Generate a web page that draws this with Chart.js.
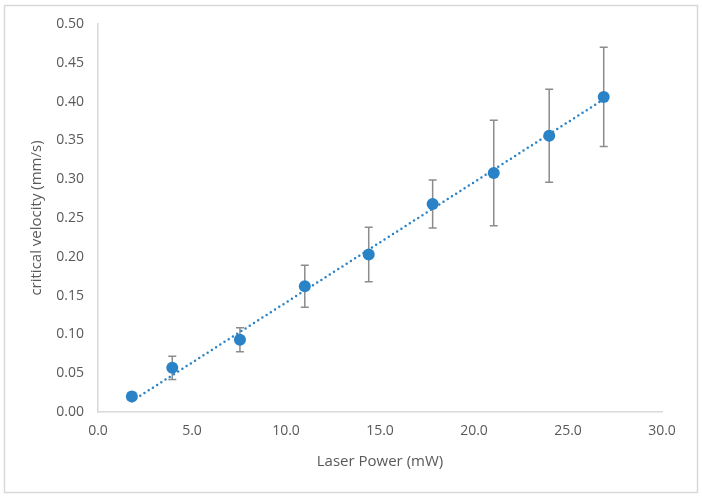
<!DOCTYPE html>
<html>
<head>
<meta charset="utf-8">
<script src="https://cdn.jsdelivr.net/npm/chart.js@4"></script>
<style>
  html, body { margin: 0; padding: 0; background: #fff; }
  #wrap { width: 702px; height: 498px; }
</style>
</head>
<body>
<div id="wrap"><canvas id="chart" width="702" height="498"></canvas></div>
<script>
// Laser power (mW) vs critical velocity (mm/s)
const laserPower = [1.8, 3.95, 7.55, 11.0, 14.4, 17.8, 21.05, 24.0, 26.9];
const critVelocity = [0.020, 0.057, 0.093, 0.162, 0.203, 0.268, 0.308, 0.356, 0.406];
const errorSize = [0.005, 0.015, 0.0155, 0.027, 0.035, 0.031, 0.068, 0.060, 0.064];

// linear trendline end points
const trendX = [1.8, 26.9];
const trendY = [0.014, 0.403];

const xTicks = [0, 5, 10, 15, 20, 25, 30];
const yTicks = [0, 0.05, 0.1, 0.15, 0.2, 0.25, 0.3, 0.35, 0.4, 0.45, 0.5];

const textColor = "#595959";
const fontFamily = "'Open Sans', 'Noto Sans', sans-serif";

// error bars drawn with the chart's own scales, under the points
const errorBars = {
  id: "errorBars",
  beforeDatasetsDraw(chart) {
    const { ctx, scales } = chart;
    const x = scales.x;
    const y = scales.y;
    ctx.save();
    ctx.strokeStyle = "#8c8c8c";
    ctx.lineWidth = 1.5;
    laserPower.forEach((p, i) => {
      const px = x.getPixelForValue(p);
      const top = y.getPixelForValue(critVelocity[i] + errorSize[i]);
      const bot = y.getPixelForValue(critVelocity[i] - errorSize[i]);
      ctx.beginPath();
      ctx.moveTo(px, top);
      ctx.lineTo(px, bot);
      ctx.moveTo(px - 4, top);
      ctx.lineTo(px + 4, top);
      ctx.moveTo(px - 4, bot);
      ctx.lineTo(px + 4, bot);
      ctx.stroke();
    });
    ctx.restore();
  },
};

// outer chart border
const frame = {
  id: "frame",
  beforeDraw(chart) {
    const ctx = chart.ctx;
    ctx.save();
    ctx.strokeStyle = "#d9d9d9";
    ctx.lineWidth = 1.5;
    ctx.strokeRect(4.5, 5.5, 693, 487);
    ctx.restore();
  },
};

new Chart(document.getElementById("chart"), {
  type: "scatter",
  data: {
    datasets: [
      {
        label: "trend",
        type: "line",
        data: trendX.map((v, i) => ({ x: v, y: trendY[i] })),
        borderColor: "#2a83c6",
        borderWidth: 2.5,
        borderDash: [0, 5],
        borderCapStyle: "round",
        pointRadius: 0,
        fill: false,
        order: 1,
      },
      {
        label: "critical velocity",
        data: laserPower.map((v, i) => ({ x: v, y: critVelocity[i] })),
        backgroundColor: "#2a83c6",
        borderColor: "#2a83c6",
        borderWidth: 0,
        pointRadius: 6,
        order: 0,
      },
    ],
  },
  options: {
    responsive: false,
    animation: false,
    layout: { padding: { left: 0, top: 24, right: 40, bottom: 0 } },
    plugins: {
      legend: { display: false },
      tooltip: { enabled: false },
    },
    scales: {
      x: {
        type: "linear",
        min: 0,
        max: 30,
        afterBuildTicks: (scale) => {
          scale.ticks = xTicks.map((v) => ({ value: v }));
        },
        afterFit: (scale) => {
          scale.height = 86;
        },
        grid: { display: false, drawTicks: false },
        border: { display: true, color: "#d9d9d9", width: 1.5 },
        ticks: {
          color: textColor,
          font: { family: fontFamily, size: 14 },
          padding: 11,
          callback: (v) => v.toFixed(1),
        },
        title: {
          display: true,
          text: "Laser Power (mW)",
          color: textColor,
          font: { family: fontFamily, size: 15 },
          padding: { top: 0, bottom: 27 },
        },
      },
      y: {
        type: "linear",
        min: 0,
        max: 0.5,
        afterBuildTicks: (scale) => {
          scale.ticks = yTicks.map((v) => ({ value: v }));
        },
        afterFit: (scale) => {
          scale.width = 98;
        },
        grid: { display: false, drawTicks: false },
        border: { display: true, color: "#d9d9d9", width: 1.5 },
        ticks: {
          color: textColor,
          font: { family: fontFamily, size: 14 },
          padding: 14,
          callback: (v) => v.toFixed(2),
        },
        title: {
          display: true,
          text: "critical velocity (mm/s)",
          color: textColor,
          font: { family: fontFamily, size: 15 },
          padding: { top: 28, bottom: 0 },
        },
      },
    },
  },
  plugins: [errorBars, frame],
});
</script>
</body>
</html>
